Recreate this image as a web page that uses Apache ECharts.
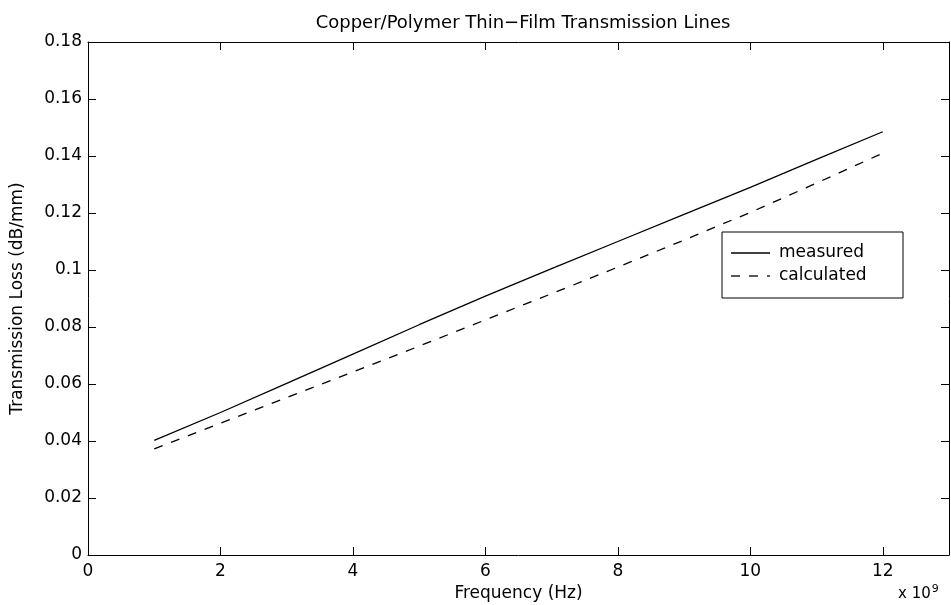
<!DOCTYPE html>
<html><head><meta charset="utf-8">
<script src="https://cdn.jsdelivr.net/npm/echarts@6/dist/echarts.min.js"></script>
<style>html,body{margin:0;padding:0;background:#fff}#c{width:951px;height:605px}</style>
</head><body><div id="c"></div>
<script>
const freq = [1,2,3,4,5,6,7,8,9,10,11,12];
const measured = [0.0402,0.0500,0.0602,0.0705,0.0808,0.0908,0.1005,0.1100,0.1195,0.1290,0.1388,0.1485];
const calculated = [0.0372,0.0462,0.0552,0.0642,0.0733,0.0825,0.0917,0.1010,0.1105,0.1202,0.1305,0.1410];
const seriesNames = ['measured','calculated'];
const F = 'DejaVu Sans, Verdana, sans-serif';
const chart = echarts.init(document.getElementById('c'));
const axLine = {show:true, onZero:false, lineStyle:{color:'#000', width:1}};
const ticks = {show:true, inside:true, length:8, lineStyle:{color:'#000'}};
chart.setOption({
  animation:false,
  title:{text:'Copper/Polymer Thin\u2212Film Transmission Lines', left:518, top:9, textAlign:'center',
    textStyle:{fontFamily:F, fontSize:18, fontWeight:'normal', color:'#000'}},
  grid:{left:88, right:2, top:42, bottom:50, containLabel:false, outerBoundsMode:'none'},
  xAxis:[{type:'value', min:0, max:13, interval:2, position:'bottom',
    axisLine:axLine, axisTick:ticks, splitLine:{show:false},
    axisLabel:{fontFamily:F, fontSize:17, color:'#000', margin:8,
      formatter:v=> v>12 ? '' : String(v)},
    name:'Frequency (Hz)', nameLocation:'middle', nameGap:27,
    nameTextStyle:{fontFamily:F, fontSize:17, color:'#000'}},
   {type:'value', min:0, max:13, interval:2, position:'top',
    axisLine:axLine, axisTick:ticks, axisLabel:{show:false}, splitLine:{show:false}}],
  yAxis:[{type:'value', min:0, max:0.18, interval:0.02, position:'left',
    axisLine:axLine, axisTick:ticks, splitLine:{show:false},
    axisLabel:{fontFamily:F, fontSize:17, color:'#000', margin:6,
      formatter:v=>String(+v.toFixed(2))},
    name:'Transmission Loss (dB/mm)', nameLocation:'middle', nameGap:62,
    nameTextStyle:{fontFamily:F, fontSize:17, color:'#000'}},
   {type:'value', min:0, max:0.18, interval:0.02, position:'right',
    axisLine:axLine, axisTick:ticks, axisLabel:{show:false}, splitLine:{show:false}}],
  series:[
    {name:seriesNames[0], type:'line', showSymbol:false, symbol:'none',
      data:freq.map((f,i)=>[f,measured[i]]), lineStyle:{color:'#000', width:1.3}},
    {name:seriesNames[1], type:'line', showSymbol:false, symbol:'none',
      data:freq.map((f,i)=>[f,calculated[i]]), lineStyle:{color:'#000', width:1.3, type:[9,9]}}
  ],
  graphic:[
    {type:'rect', shape:{x:722, y:232, width:181, height:66}, style:{fill:'#fff', stroke:'#000', lineWidth:1}},
    {type:'line', shape:{x1:731, y1:253, x2:770, y2:253}, style:{stroke:'#000', lineWidth:1.3}},
    {type:'line', shape:{x1:731, y1:276, x2:770, y2:276}, style:{stroke:'#000', lineWidth:1.3, lineDash:[9,9]}},
    {type:'text', x:779, y:253, style:{text:seriesNames[0], fontFamily:F, fontSize:17, fill:'#000', verticalAlign:'middle'}},
    {type:'text', x:779, y:276, style:{text:seriesNames[1], fontFamily:F, fontSize:17, fill:'#000', verticalAlign:'middle'}},
    {type:'text', x:898, y:584, style:{
      text:'{a|x 10}{b|9}', rich:{a:{fontFamily:F, fontSize:15, fill:'#000'}, b:{fontFamily:F, fontSize:11, fill:'#000', verticalAlign:'top', padding:[0,0,10,1]}}}}
  ]
});
</script></body></html>
